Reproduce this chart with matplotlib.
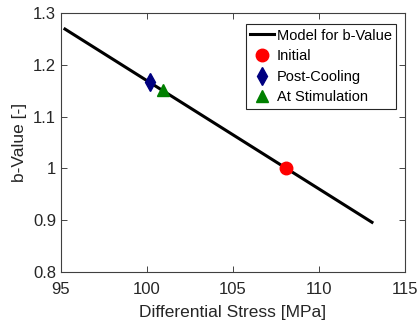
import matplotlib
matplotlib.use("Agg")
import matplotlib.pyplot as plt

plt.rcParams['font.family'] = ['Liberation Sans', 'DejaVu Sans']

model_stress = [95.23, 113.08]
model_b = [1.269, 0.896]
initial_stress = [108.1]
initial_b = [1.0]
cool_stress = [100.17]
cool_b = [1.166]
stim_stress = [100.93]
stim_b = [1.151]
xticks = [95, 100, 105, 110, 115]
yticks = [0.8, 0.9, 1.0, 1.1, 1.2, 1.3]
yticklabels = ['0.8', '0.9', '1', '1.1', '1.2', '1.3']

fig = plt.figure(figsize=(4.19, 3.25), dpi=100)
ax = fig.add_axes([0.1456, 0.163, 0.821, 0.797])
ax.plot(model_stress, model_b, color='black', lw=2.2, label='Model for b-Value')
ax.plot(initial_stress, initial_b, 'o', color='red', ms=9, label='Initial')
ax.plot(cool_stress, cool_b, 'd', color='#000080', ms=9, label='Post-Cooling')
ax.plot(stim_stress, stim_b, '^', color='#008000', ms=9, label='At Stimulation')

ax.set_xlim(95, 115)
ax.set_ylim(0.8, 1.3)
ax.set_xticks(xticks)
ax.set_yticks(yticks)
ax.set_yticklabels(yticklabels)
ax.tick_params(direction='in', top=True, right=True, length=4, width=0.6,
               labelsize=12, colors='#262626', labelcolor='#262626')
ax.tick_params(axis='x', pad=7)
for s in ax.spines.values():
    s.set_color('#404040')
    s.set_linewidth(0.8)
ax.set_xlabel('Differential Stress [MPa]', fontsize=12.5, color='#262626', labelpad=6)
ax.set_ylabel('b-Value [-]', fontsize=12.5, color='#262626')

leg = ax.legend(loc='upper right', fontsize=10.5, frameon=True, fancybox=False,
                edgecolor='#262626', framealpha=1, borderpad=0.3,
                handlelength=1.6, handletextpad=0.2, labelspacing=0.45,
                bbox_to_anchor=(0.995, 0.985))
leg.get_frame().set_linewidth(0.8)

fig.savefig('out.png', dpi=100)
